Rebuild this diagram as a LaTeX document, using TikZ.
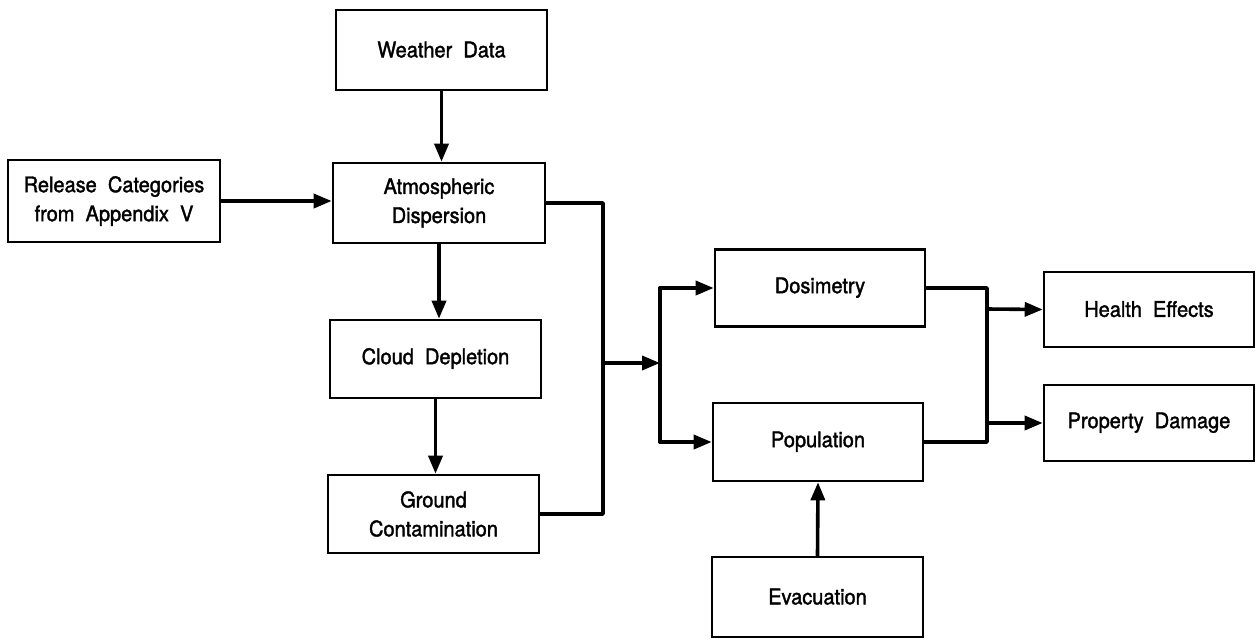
\documentclass[tikz,border=0pt]{standalone}
\usepackage{fontspec}
\setmainfont[FakeBold=1.6,FakeStretch=0.93]{TeX Gyre Heros}
\usetikzlibrary{arrows.meta}
\tikzset{
  box/.style={draw, line width=2.6pt, rectangle, align=center, inner sep=0pt,
    font=\fontsize{21.5}{29}\selectfont, text height=15pt},
  conn/.style={line width=3.6pt, line cap=round, line join=round},
  arr/.style={conn, -{Triangle[length=18pt,width=14pt]}}
}
\begin{document}
\begin{tikzpicture}[x=1pt,y=-1pt]
\useasboundingbox (0,0) rectangle (1256,640);
\node[box, minimum width=211pt, minimum height=80pt] (weather) at (441.5,50) {Weather\ \ Data};
\node[box, minimum width=212pt, minimum height=82pt, text height=] (release) at (114,201) {Release\ \ Categories\\from\ \ Appendix\ \ V};
\node[box, minimum width=212pt, minimum height=80pt, text height=] (atmos) at (439,203) {Atmospheric\\Dispersion};
\node[box, minimum width=211pt, minimum height=78pt] (cloud) at (435.5,359) {Cloud\ \ Depletion};
\node[box, minimum width=211pt, minimum height=78pt, text height=] (ground) at (433.5,514) {Ground\\Contamination};
\node[box, minimum width=210pt, minimum height=77pt] (dosim) at (820,288) {Dosimetry};
\node[box, minimum width=210pt, minimum height=78pt] (popul) at (818,442) {Population};
\node[box, minimum width=211pt, minimum height=80pt] (evac) at (817.5,597) {Evacuation};
\node[box, minimum width=210pt, minimum height=75pt] (health) at (1149,309.5) {Health\ \ Effects};
\node[box, minimum width=210pt, minimum height=76pt] (property) at (1149,423) {Property\ \ Damage};

\coordinate (jl) at (603,363);
\coordinate (jm) at (660,363);
\coordinate (jr) at (987,309);
\coordinate (jr2) at (987,423);

\draw[arr] (weather.south) -- (weather.south |- atmos.north);
\draw[arr] (release.east) -- (release.east -| atmos.west);
\draw[arr] (atmos.south) -- (atmos.south |- cloud.north);
\draw[arr] (cloud.south) -- (cloud.south |- ground.north);

\draw[conn] (atmos.east) -| (jl) |- (ground.east);
\draw[arr] (jl) -- (jm);
\draw[conn] (jm |- dosim.west) -- (jm |- popul.west);
\draw[arr] (jm |- dosim.west) -- (dosim.west);
\draw[arr] (jm |- popul.west) -- (popul.west);

\draw[conn] (dosim.east) -| (jr) |- (popul.east);
\draw[arr] (jr) -- (health.west);
\draw[arr] (jr2) -- (property.west);

\draw[arr] (evac.north) -- (popul.south);
\end{tikzpicture}
\end{document}
